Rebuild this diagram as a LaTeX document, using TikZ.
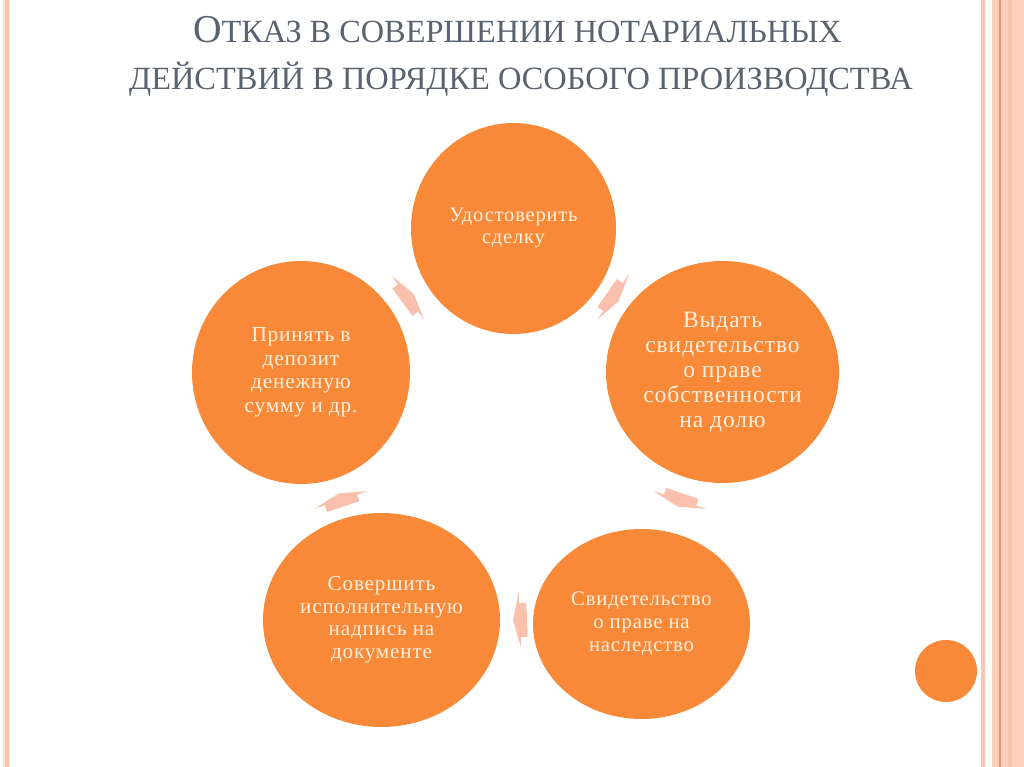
\documentclass[tikz,border=0pt]{standalone}
\usepackage{fontspec}
\usetikzlibrary{shapes.geometric}
\newfontfamily\titlefont{Liberation Serif}
\newfontfamily\circfont[LetterSpace=4]{Liberation Serif}
\definecolor{orng}{RGB}{247,137,56}
\definecolor{cream}{RGB}{255,240,222}
\definecolor{arrowc}{RGB}{249,193,172}
\definecolor{titlec}{RGB}{90,98,112}
\definecolor{stripe}{RGB}{249,196,176}
\definecolor{stripepale}{RGB}{253,226,214}
\definecolor{bandc}{RGB}{252,208,190}
\definecolor{bandline}{RGB}{236,150,104}
\tikzset{
  bubble/.style={ellipse, fill=orng, inner sep=0pt, align=center, text=cream},
  titletext/.style={text=titlec, anchor=base, inner sep=0pt},
  cycarrow/.pic={\fill[arrowc] (-7,-17) -- (0,-17) -- (0,-28) -- (7,0) -- (0,28) -- (0,17) -- (-7,17) -- cycle;}
}
\begin{document}
\begin{tikzpicture}[x=1pt,y=-1pt]
\useasboundingbox (0,0) rectangle (1024,767);
\fill[white] (0,0) rectangle (1024,767);
% left border
\fill[stripepale] (3,0) rectangle (10,767);
\fill[stripe] (4.5,0) rectangle (9,767);
% right border
\fill[stripe] (981,0) rectangle (985,767);
\fill[bandc] (992,0) rectangle (1024,767);
\fill[stripe] (1008,0) rectangle (1012,767);
\fill[bandline] (999.4,0) rectangle (1000.8,767);
% title
\node[titletext] (title1) at (517.5,43) {\titlefont\fontsize{39.5}{44}\selectfont О\fontsize{32.3}{38}\selectfont ТКАЗ В СОВЕРШЕНИИ НОТАРИАЛЬНЫХ};
\node[titletext] (title2) at (521,90) {\titlefont\fontsize{32.4}{38}\selectfont ДЕЙСТВИЙ В ПОРЯДКЕ ОСОБОГО ПРОИЗВОДСТВА};
% arrows
\pic[rotate=36.2] at (408,298) {cycarrow};
\pic[rotate=-34.7] at (613,297) {cycarrow};
\pic[rotate=-108.7] at (680,500) {cycarrow};
\pic[rotate=182.6] at (520,620) {cycarrow};
\pic[rotate=108.4] at (341,500) {cycarrow};
% circles
\node[bubble, minimum width=205pt, minimum height=211pt, font=\circfont\fontsize{20.5}{22}\selectfont] (top) at (513.5,228.5) {Удостоверить\\сделку};
\node[bubble, minimum width=233pt, minimum height=222pt, font=\circfont\fontsize{23.5}{25}\selectfont] (right) at (722.5,372) {Выдать\\свидетельство\\о праве\\собственности\\на долю};
\node[bubble, minimum width=217pt, minimum height=190pt, font=\circfont\fontsize{20.7}{23}\selectfont] (bright) at (641.5,624) {Свидетельство\\о праве на\\наследство};
\node[bubble, minimum width=237pt, minimum height=214pt, font=\circfont\fontsize{21.1}{22.5}\selectfont] (bleft) at (381.5,620) {Совершить\\исполнительную\\надпись на\\документе};
\node[bubble, minimum width=218pt, minimum height=223pt, font=\circfont\fontsize{21.3}{23.5}\selectfont] (left) at (301,372.5) {Принять в\\депозит\\денежную\\сумму и др.};
\node[circle, fill=orng, minimum size=62pt, inner sep=0pt] (dot) at (946,671) {};
\end{tikzpicture}
\end{document}
